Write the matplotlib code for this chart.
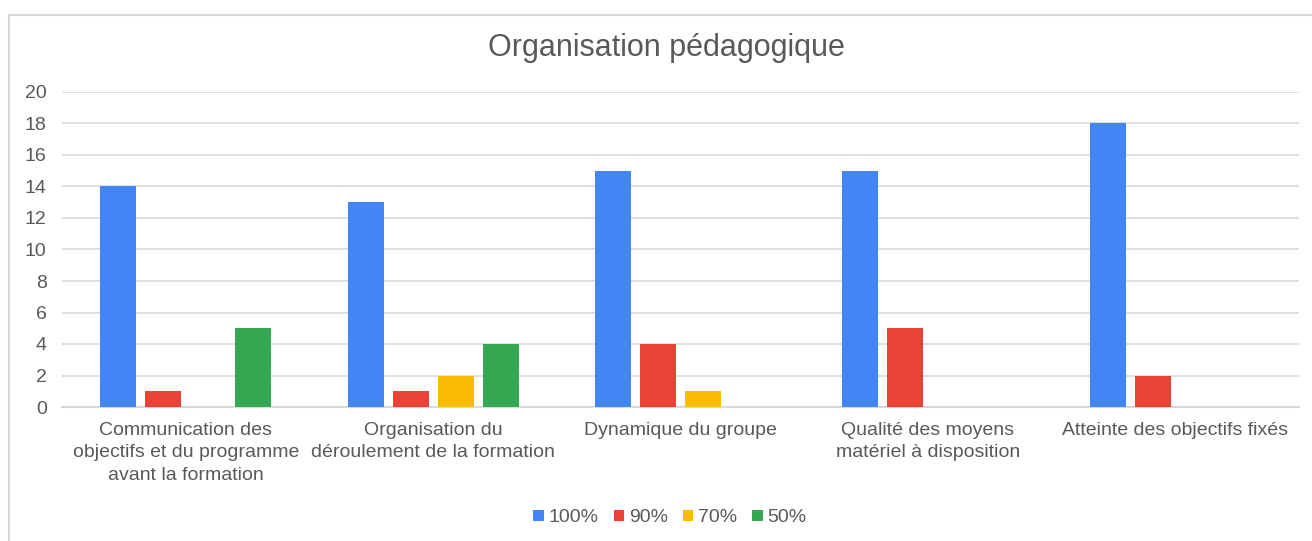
import matplotlib
matplotlib.use("Agg")
import matplotlib.pyplot as plt
import numpy as np
from matplotlib.patches import Rectangle

categories = ["Communication des\nobjectifs et du programme\navant la formation",
              "Organisation du\ndéroulement de la formation",
              "Dynamique du groupe",
              "Qualité des moyens\nmatériel à disposition",
              "Atteinte des objectifs fixés"]
series_names = ["100%", "90%", "70%", "50%"]
v100 = [14, 13, 15, 15, 18]
v90 = [1, 1, 4, 5, 2]
v70 = [0, 2, 1, 0, 0]
v50 = [5, 4, 0, 0, 0]
yticks = [0, 2, 4, 6, 8, 10, 12, 14, 16, 18, 20]
colors = ["#4285F4", "#EA4335", "#FBBC04", "#34A853"]

plt.rcParams['font.family'] = ['Liberation Sans', 'DejaVu Sans']
W, H = 1312, 541
fig = plt.figure(figsize=(W / 100, H / 100), dpi=100)
ax = fig.add_axes([62 / W, 1 - 407 / H, (1299 - 62) / W, (407 - 92) / H])

fig.patches.append(Rectangle((9 / W, -0.1), 1.2, 1.1 - 15 / H, transform=fig.transFigure,
                             fill=False, edgecolor="#d9d9d9", linewidth=1.5, zorder=0))

x = np.arange(len(categories))
step = 0.182
width = 0.1455
for i, (name, vals) in enumerate(zip(series_names, [v100, v90, v70, v50])):
    ax.bar(x + (i - 1.5) * step, vals, width, color=colors[i], label=name, zorder=3)

ax.set_xlim(-0.5, len(categories) - 0.5)
ax.set_ylim(0, 20)
ax.set_yticks(yticks)
ax.set_yticklabels([str(t) for t in yticks])
ax.grid(axis="y", color="#d9d9d9", linewidth=1.2, zorder=0)
for s in ["top", "right", "left"]:
    ax.spines[s].set_visible(False)
ax.spines["bottom"].set_color("#d9d9d9")
ax.spines["bottom"].set_linewidth(1.5)
ax.tick_params(axis="both", length=0, colors="#595959", labelsize=14)
ax.tick_params(axis="y", pad=11)
ax.tick_params(axis="x", pad=11)
ax.set_xticks(x)
ax.set_xticklabels(categories, linespacing=1.4)

fig.text(666 / W, 1 - 48 / H, "Organisation pédagogique", ha="center", va="center",
         fontsize=22, color="#595959")

leg = fig.legend(loc="center", bbox_to_anchor=(670 / W, 1 - 518 / H), ncol=4, frameon=False,
                 fontsize=14, handlelength=0.55, handleheight=0.55, handletextpad=0.25,
                 columnspacing=0.75, labelcolor="#595959")

fig.savefig("out.png", dpi=100)
